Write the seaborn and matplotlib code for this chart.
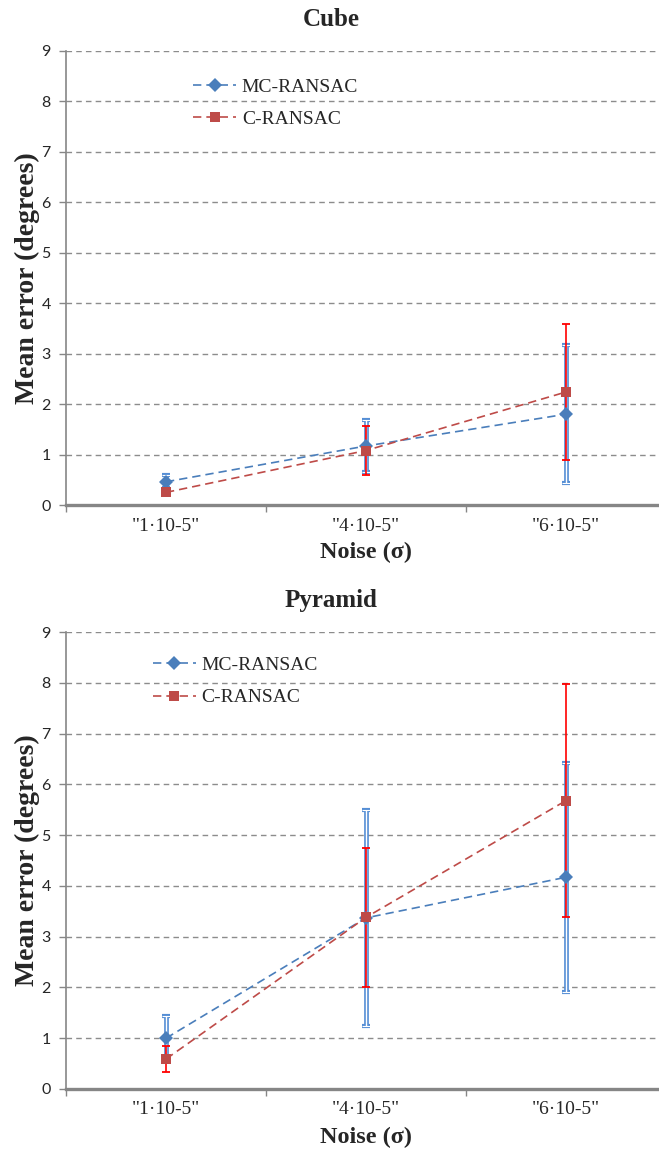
import numpy as np
import pandas as pd
import matplotlib
matplotlib.use("Agg")
import matplotlib.pyplot as plt
import seaborn as sns

# ---------------- data ----------------
categories = ['"1·10-5"', '"4·10-5"', '"6·10-5"']
methods = ["MC-RANSAC", "C-RANSAC"]

cube_mc = [0.46, 1.17, 1.80]
cube_mc_err = [0.13, 0.52, 1.37]
cube_c = [0.25, 1.08, 2.24]
cube_c_err = [0.08, 0.48, 1.35]

pyr_mc = [1.00, 3.37, 4.17]
pyr_mc_err = [0.43, 2.12, 2.25]
pyr_c = [0.59, 3.38, 5.68]
pyr_c_err = [0.26, 1.37, 2.30]

y_ticks = [0, 1, 2, 3, 4, 5, 6, 7, 8, 9]

# ---------------- style ----------------
sns.set_theme(style="white")
plt.rcParams["font.family"] = ["Liberation Serif", "DejaVu Serif"]

MC_LINE = "#4A7EBB"
C_LINE = "#BE4B48"
MC_ERR = "#558ED5"
C_ERR = "#FF0000"
GRID = "#8C8C8C"
SPINE = "#868686"

W, H = 659, 1161
fig = plt.figure(figsize=(W / 100, H / 100), dpi=100)


def panel(rect, title, title_y, mc, mc_err, c, c_err, leg_xy):
    ax = fig.add_axes(rect)
    df = pd.DataFrame({
        "noise": categories * 2,
        "err": list(mc) + list(c),
        "method": [methods[0]] * 3 + [methods[1]] * 3,
    })
    # error bars (blue ones drawn as a hollow double line)
    ax.errorbar(categories, mc, yerr=mc_err, fmt="none", ecolor=MC_ERR,
                elinewidth=3.4, capsize=3.0, capthick=3.0, zorder=3)
    ax.errorbar(categories, mc, yerr=mc_err, fmt="none", ecolor="white",
                elinewidth=1.0, capsize=3.0, capthick=0.8, zorder=3.1)
    ax.errorbar(categories, c, yerr=c_err, fmt="none", ecolor=C_ERR,
                elinewidth=1.2, capsize=3.0, capthick=1.3, zorder=3.2)
    sns.lineplot(data=df, x="noise", y="err", hue="method", style="method",
                 hue_order=methods, style_order=methods,
                 palette={methods[0]: MC_LINE, methods[1]: C_LINE},
                 markers={methods[0]: "D", methods[1]: "s"},
                 dashes={methods[0]: (5, 3), methods[1]: (5, 3)},
                 markersize=7.5, markeredgewidth=0, linewidth=1.2,
                 sort=False, ax=ax, zorder=4)
    ax.set_xlim(-0.5, 2.5)
    ax.set_ylim(0, 9)
    ax.set_yticks(y_ticks)
    ax.set_yticklabels([str(t) for t in y_ticks], fontfamily="Lato",
                       fontsize=11.5)
    ax.set_xticks(range(len(categories)))
    ax.set_xticklabels(categories, fontsize=14)
    ax.set_xticks([-0.5, 0.5, 1.5, 2.5], minor=True)
    ax.tick_params(axis="x", which="major", length=0, pad=9)
    ax.tick_params(axis="x", which="minor", length=5, width=1, color=SPINE,
                   direction="out", bottom=True)
    ax.tick_params(axis="y", length=5, width=1, color=SPINE, direction="out",
                   left=True, pad=6)
    ax.grid(False)
    for t in y_ticks[1:]:
        ax.axhline(t, color=GRID, lw=1.0, ls=(0, (4, 3)), zorder=1)
    for s in ["top", "right"]:
        ax.spines[s].set_visible(False)
    ax.spines["left"].set_color(SPINE)
    ax.spines["left"].set_linewidth(1.2)
    ax.spines["bottom"].set_color(SPINE)
    ax.spines["bottom"].set_linewidth(2.4)
    ax.set_xlabel("Noise (σ)", fontsize=17.5, fontweight="bold")
    ax.set_ylabel("Mean error (degrees)", fontsize=20, fontweight="bold")
    ax.yaxis.set_label_coords(-26 / 600, 0.5)
    ax.xaxis.set_label_coords(0.5, -0.082)
    handles, labels = ax.get_legend_handles_labels()
    ax.legend(handles=handles, labels=labels, loc="upper left",
              bbox_to_anchor=leg_xy, frameon=False, fontsize=14,
              handlelength=2.2, handletextpad=0.3, labelspacing=0.75,
              borderpad=0, borderaxespad=0)
    fig.text(0.503, 1 - title_y / H, title, ha="center", va="center",
             fontsize=18, fontweight="bold")
    return ax


panel([66 / W, 1 - 505 / H, 600 / W, 454 / H], "Cube", 19,
      cube_mc, cube_mc_err, cube_c, cube_c_err, (0.212, 0.940))
panel([66 / W, 1 - 1089 / H, 600 / W, 457 / H], "Pyramid", 601,
      pyr_mc, pyr_mc_err, pyr_c, pyr_c_err, (0.145, 0.946))

fig.savefig("out.png", dpi=100)
